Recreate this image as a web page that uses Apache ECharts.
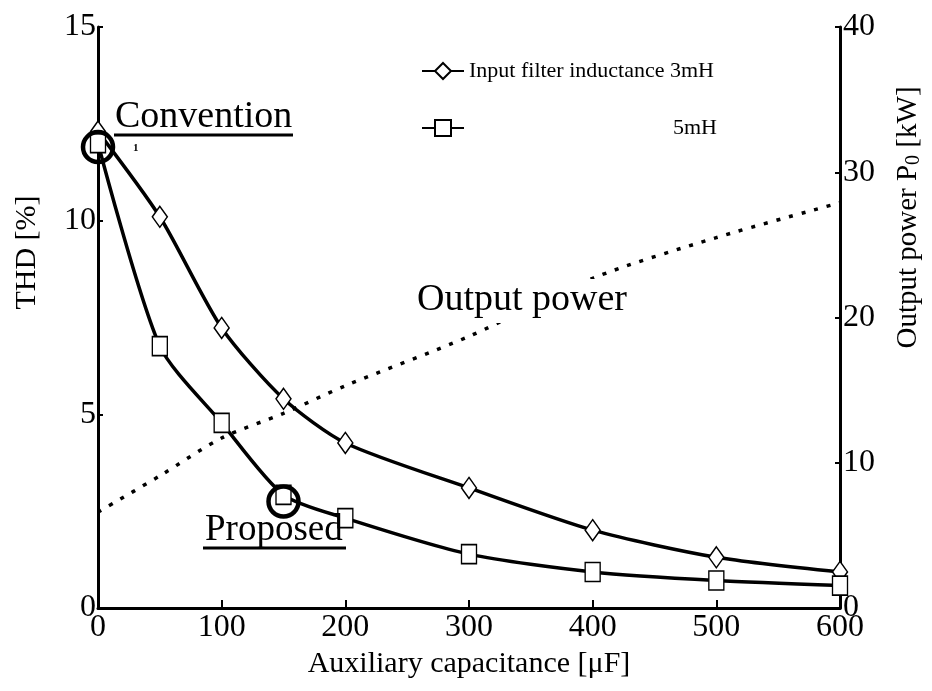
<!DOCTYPE html>
<html>
<head>
<meta charset="utf-8">
<script src="https://cdn.jsdelivr.net/npm/echarts@6/dist/echarts.min.js"></script>
<style>
  html, body { margin: 0; padding: 0; background: #fff; }
  #chart { width: 932px; height: 691px; }
</style>
</head>
<body>
<div id="chart"></div>
<script>
// auxiliary capacitance [uF]
var capX = [0, 50, 100, 150, 200, 300, 400, 500, 600];
// THD [%] for each filter inductance
var thd3mH = [12.3, 10.1, 7.23, 5.4, 4.26, 3.1, 2.01, 1.31, 0.93];
var thd5mH = [12.0, 6.76, 4.78, 2.92, 2.32, 1.39, 0.93, 0.71, 0.58];
// output power [kW]
var powerKW = [6.6, 9.1, 11.7, 13.4, 15.3, 18.7, 22.7, 25.5, 27.9];

function pairs(xs, ys) {
    return xs.map(function (x, i) { return [x, ys[i]]; });
}

var serif = 'Liberation Serif';
var chart = echarts.init(document.getElementById('chart'));

var option = {
    backgroundColor: '#fff',
    animation: false,
    textStyle: { fontFamily: serif, color: '#000' },
    grid: { left: 98, right: 87, top: 27, bottom: 83 },
    legend: {
        orient: 'vertical',
        left: 416,
        top: 55,
        itemWidth: 42,
        itemHeight: 20,
        itemGap: 35,
        textStyle: { fontFamily: serif, fontSize: 22, color: '#000' },
        data: [
            { name: 'Input filter inductance 3mH' },
            { name: '5mH', textStyle: { padding: [0, 0, 0, 204] } }
        ]
    },
    xAxis: {
        type: 'value',
        min: 0,
        max: 600,
        interval: 100,
        name: 'Auxiliary capacitance [μF]',
        nameLocation: 'middle',
        nameGap: 40,
        nameTextStyle: { fontFamily: serif, fontSize: 30, color: '#000' },
        axisLine: { lineStyle: { color: '#000', width: 3 } },
        axisTick: { inside: true, length: 8, lineStyle: { color: '#000', width: 2 } },
        axisLabel: { fontFamily: serif, fontSize: 32, color: '#000', margin: 4 },
        splitLine: { show: false }
    },
    yAxis: [
        {
            type: 'value',
            min: 0,
            max: 15,
            interval: 5,
            name: 'THD [%]',
            nameLocation: 'middle',
            nameRotate: 90,
            nameGap: 56,
            nameTextStyle: { fontFamily: serif, fontSize: 30, color: '#000', padding: [0, 0, 0, 130] },
            axisLine: { show: true, lineStyle: { color: '#000', width: 3 } },
            axisTick: { show: true, inside: true, length: 5, lineStyle: { color: '#000', width: 2 } },
            axisLabel: { fontFamily: serif, fontSize: 32, color: '#000', margin: 2 },
            splitLine: { show: false }
        },
        {
            type: 'value',
            min: 0,
            max: 40,
            interval: 10,
            position: 'right',
            name: 'Output power P{sub|0} [kW]',
            nameLocation: 'middle',
            nameRotate: 90,
            nameGap: 52,
            nameTextStyle: {
                fontFamily: serif, fontSize: 29, color: '#000', padding: [0, 0, 0, 200],
                rich: { sub: { fontFamily: serif, fontSize: 20, verticalAlign: 'bottom', padding: [12, 0, 0, 0] } }
            },
            axisLine: { show: true, lineStyle: { color: '#000', width: 3 } },
            axisTick: { show: true, inside: true, length: 5, lineStyle: { color: '#000', width: 2 } },
            axisLabel: { fontFamily: serif, fontSize: 32, color: '#000', margin: 3 },
            splitLine: { show: false }
        }
    ],
    series: [
        {
            name: 'Input filter inductance 3mH',
            type: 'line',
            data: pairs(capX, thd3mH),
            smooth: 0.25,
            symbol: 'diamond',
            symbolSize: [15, 21],
            lineStyle: { color: '#000', width: 3.5 },
            itemStyle: { color: '#fff', borderColor: '#000', borderWidth: 1.5 },
            z: 3
        },
        {
            name: '5mH',
            type: 'line',
            data: pairs(capX, thd5mH),
            smooth: 0.25,
            symbol: 'rect',
            symbolSize: [15, 19],
            lineStyle: { color: '#000', width: 3.5 },
            itemStyle: { color: '#fff', borderColor: '#000', borderWidth: 1.5 },
            markPoint: {
                symbol: 'circle',
                symbolSize: 30,
                silent: true,
                label: { show: false },
                itemStyle: { color: 'rgba(0,0,0,0)', borderColor: '#000', borderWidth: 4.5 },
                data: [{ coord: [0, 11.9] }, { coord: [150, 2.75] }]
            },
            z: 4
        },
        {
            name: 'Output power',
            type: 'line',
            yAxisIndex: 1,
            data: pairs(capX, powerKW),
            smooth: 0.3,
            showSymbol: false,
            lineStyle: { color: '#000', width: 3.5, type: [4, 9] },
            z: 2
        }
    ],
    graphic: [
        {
            type: 'text', z: 100, left: 115, top: 98,
            style: { text: 'Convention', font: '38px "Liberation Serif"', fill: '#000' }
        },
        {
            type: 'line', z: 100,
            shape: { x1: 114, y1: 135, x2: 293, y2: 135 },
            style: { stroke: '#000', lineWidth: 3 }
        },
        {
            type: 'text', z: 100, left: 133, top: 143,
            style: { text: '1', font: 'bold 11px "Liberation Serif"', fill: '#000' }
        },
        {
            type: 'text', z: 100, left: 205, top: 512,
            style: { text: 'Proposed', font: '37px "Liberation Serif"', fill: '#000' }
        },
        {
            type: 'line', z: 100,
            shape: { x1: 203, y1: 548, x2: 346, y2: 548 },
            style: { stroke: '#000', lineWidth: 3 }
        },
        {
            type: 'text', z: 100, left: 413, top: 279,
            style: {
                text: 'Output power', font: '38px "Liberation Serif"', fill: '#000',
                backgroundColor: '#fff', padding: [2, 4, 4, 4]
            }
        }
    ]
};

chart.setOption(option);
</script>
</body>
</html>
